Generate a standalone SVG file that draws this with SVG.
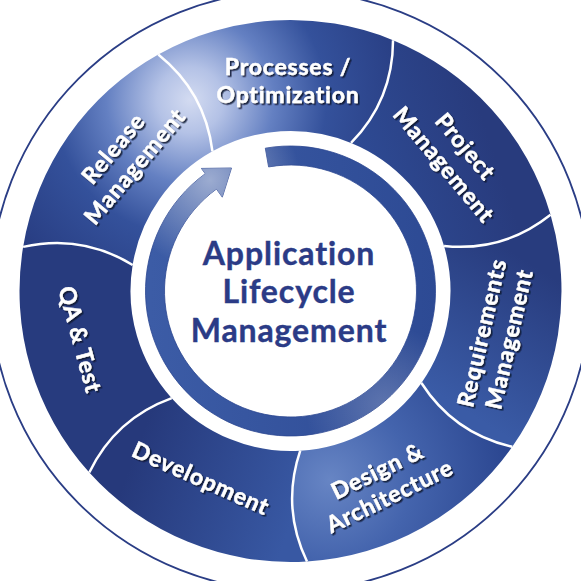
<svg xmlns="http://www.w3.org/2000/svg" width="581" height="581" viewBox="0 0 581 581">
<style>
.lbl{font-family:Lato,"Open Sans","Liberation Sans",sans-serif;font-weight:bold;font-size:23px;letter-spacing:0.8px;fill:#ffffff;stroke:#ffffff;stroke-width:0.45;text-anchor:middle}
.ctr{font-family:Lato,"Open Sans","Liberation Sans",sans-serif;font-weight:bold;font-size:32px;letter-spacing:0.9px;fill:#2b3b86;stroke:#2b3b86;stroke-width:0.4;text-anchor:middle}
.sep{fill:none;stroke:#ffffff;stroke-width:2.5}
</style>
<defs>
<radialGradient id="gTop" gradientUnits="userSpaceOnUse" cx="190" cy="100" r="220">
<stop offset="0" stop-color="#d3dbf1"/>
<stop offset="0.15" stop-color="#b4c2e6"/>
<stop offset="0.38" stop-color="#6480c2"/>
<stop offset="0.62" stop-color="#34519b"/>
<stop offset="1" stop-color="#283d82"/>
</radialGradient>
<linearGradient id="gProj" gradientUnits="userSpaceOnUse" x1="360" y1="150" x2="480" y2="110">
<stop offset="0" stop-color="#2e4a93"/>
<stop offset="1" stop-color="#283b7d"/>
</linearGradient>
<linearGradient id="gReq" gradientUnits="userSpaceOnUse" x1="440" y1="395" x2="525" y2="260">
<stop offset="0" stop-color="#3a5ba6"/>
<stop offset="1" stop-color="#283c7e"/>
</linearGradient>
<radialGradient id="gDes" gradientUnits="userSpaceOnUse" cx="330" cy="480" r="180">
<stop offset="0" stop-color="#6785c4"/>
<stop offset="0.45" stop-color="#4464ad"/>
<stop offset="1" stop-color="#2b4690"/>
</radialGradient>
<linearGradient id="gDev" gradientUnits="userSpaceOnUse" x1="140" y1="440" x2="300" y2="500">
<stop offset="0" stop-color="#26397b"/>
<stop offset="1" stop-color="#3858a3"/>
</linearGradient>
<linearGradient id="gArr" gradientUnits="userSpaceOnUse" x1="150" y1="290" x2="435" y2="290">
<stop offset="0" stop-color="#3c5ca6"/>
<stop offset="1" stop-color="#2d4a94"/>
</linearGradient>
<radialGradient id="gHi1" gradientUnits="userSpaceOnUse" cx="210" cy="180" r="90">
<stop offset="0" stop-color="#ffffff" stop-opacity="0.5"/>
<stop offset="1" stop-color="#ffffff" stop-opacity="0"/>
</radialGradient>
<radialGradient id="gHi2" gradientUnits="userSpaceOnUse" cx="385" cy="405" r="80">
<stop offset="0" stop-color="#ffffff" stop-opacity="0.22"/>
<stop offset="1" stop-color="#ffffff" stop-opacity="0"/>
</radialGradient>
<filter id="sh" x="-20%" y="-20%" width="140%" height="140%">
<feDropShadow dx="1.6" dy="1.6" stdDeviation="0.6" flood-color="#0d1433" flood-opacity="0.9"/>
</filter>
</defs>
<rect width="581" height="581" fill="#ffffff"/>
<circle cx="290.5" cy="291" r="300" fill="none" stroke="#2a3d85" stroke-width="1.8"/>

<g id="processes">
<path d="M 158.29 54.44 A 271 271 0 0 1 393.04 40.14 Q 392.96 100.07 351.04 142.89 A 160 160 0 0 0 212.44 151.33 Q 205.10 91.86 158.29 54.44 Z" fill="url(#gTop)"/>
<g filter="url(#sh)"><g transform="translate(288,80.5)"><text class="lbl" x="0" y="-6">Processes /</text><text class="lbl" x="0" y="22">Optimization</text></g></g>
</g>
<g id="project">
<path d="M 393.04 40.14 A 271 271 0 0 1 550.55 214.76 Q 503.65 252.06 444.04 245.99 A 160 160 0 0 0 351.04 142.89 Q 392.96 100.07 393.04 40.14 Z" fill="url(#gProj)"/>
<g filter="url(#sh)"><g transform="translate(454.5,155.5) rotate(50)"><text class="lbl" x="0" y="-6">Project</text><text class="lbl" x="0" y="22">Management</text></g></g>
</g>
<g id="requirements">
<path d="M 550.55 214.76 A 271 271 0 0 1 512.25 446.79 Q 453.84 433.37 421.42 382.98 A 160 160 0 0 0 444.04 245.99 Q 503.65 252.06 550.55 214.76 Z" fill="url(#gReq)"/>
<g filter="url(#sh)"><g transform="translate(495.5,336) rotate(-77)"><text class="lbl" x="0" y="-6">Requirements</text><text class="lbl" x="0" y="22">Management</text></g></g>
</g>
<g id="design">
<path d="M 512.25 446.79 A 271 271 0 0 1 307.00 561.50 Q 281.06 507.48 300.24 450.70 A 160 160 0 0 0 421.42 382.98 Q 453.84 433.37 512.25 446.79 Z" fill="url(#gDes)"/>
<g filter="url(#sh)"><g transform="translate(383.5,483.5) rotate(-26)"><text class="lbl" x="0" y="-6">Design &amp;</text><text class="lbl" x="0" y="22">Architecture</text></g></g>
</g>
<g id="development">
<path d="M 307.00 561.50 A 271 271 0 0 1 89.30 472.55 Q 115.36 418.59 171.71 398.19 A 160 160 0 0 0 300.24 450.70 Q 281.06 507.48 307.00 561.50 Z" fill="url(#gDev)"/>
<g filter="url(#sh)"><g transform="translate(201,478) rotate(24)"><text class="lbl" x="0" y="8.5">Development</text></g></g>
</g>
<g id="qa-test">
<path d="M 89.30 472.55 A 271 271 0 0 1 23.12 246.88 Q 81.55 233.62 132.63 264.95 A 160 160 0 0 0 171.71 398.19 Q 115.36 418.59 89.30 472.55 Z" fill="#273b7e"/>
<g filter="url(#sh)"><g transform="translate(80.5,339.5) rotate(75)"><text class="lbl" x="0" y="8.5">QA &amp; Test</text></g></g>
</g>
<g id="release">
<path d="M 23.12 246.88 A 271 271 0 0 1 158.29 54.44 Q 205.10 91.86 212.44 151.33 A 160 160 0 0 0 132.63 264.95 Q 81.55 233.62 23.12 246.88 Z" fill="url(#gTop)"/>
<g filter="url(#sh)"><g transform="translate(124,157.5) rotate(-50)"><text class="lbl" x="0" y="-6">Release</text><text class="lbl" x="0" y="22">Management</text></g></g>
</g>

<g id="separators">
<path class="sep" d="M 158.29 54.44 Q 205.10 91.86 212.44 151.33"/>
<path class="sep" d="M 393.04 40.14 Q 392.96 100.07 351.04 142.89"/>
<path class="sep" d="M 550.55 214.76 Q 503.65 252.06 444.04 245.99"/>
<path class="sep" d="M 512.25 446.79 Q 453.84 433.37 421.42 382.98"/>
<path class="sep" d="M 307.00 561.50 Q 281.06 507.48 300.24 450.70"/>
<path class="sep" d="M 89.30 472.55 Q 115.36 418.59 171.71 398.19"/>
<path class="sep" d="M 23.12 246.88 Q 81.55 233.62 132.63 264.95"/>
</g>

<g id="connectors">
<path d="M 265.32 148.20 A 145 145 0 1 1 205.27 173.69 L 201.45 168.43 L 231.5 168 L 222.32 197.15 L 216.44 189.06 A 126 126 0 1 0 268.62 166.91 Z" fill="url(#gArr)" stroke="#2a4590" stroke-width="0.8"/>
<path d="M 265.32 148.20 A 145 145 0 1 1 205.27 173.69 L 201.45 168.43 L 231.5 168 L 222.32 197.15 L 216.44 189.06 A 126 126 0 1 0 268.62 166.91 Z" fill="url(#gHi1)"/>
<path d="M 265.32 148.20 A 145 145 0 1 1 205.27 173.69 L 201.45 168.43 L 231.5 168 L 222.32 197.15 L 216.44 189.06 A 126 126 0 1 0 268.62 166.91 Z" fill="url(#gHi2)"/>
</g>

<g id="center">
<text class="ctr" x="289" y="264.5">Application</text>
<text class="ctr" x="289" y="303">Lifecycle</text>
<text class="ctr" x="289" y="341.5">Management</text>
</g>
</svg>
